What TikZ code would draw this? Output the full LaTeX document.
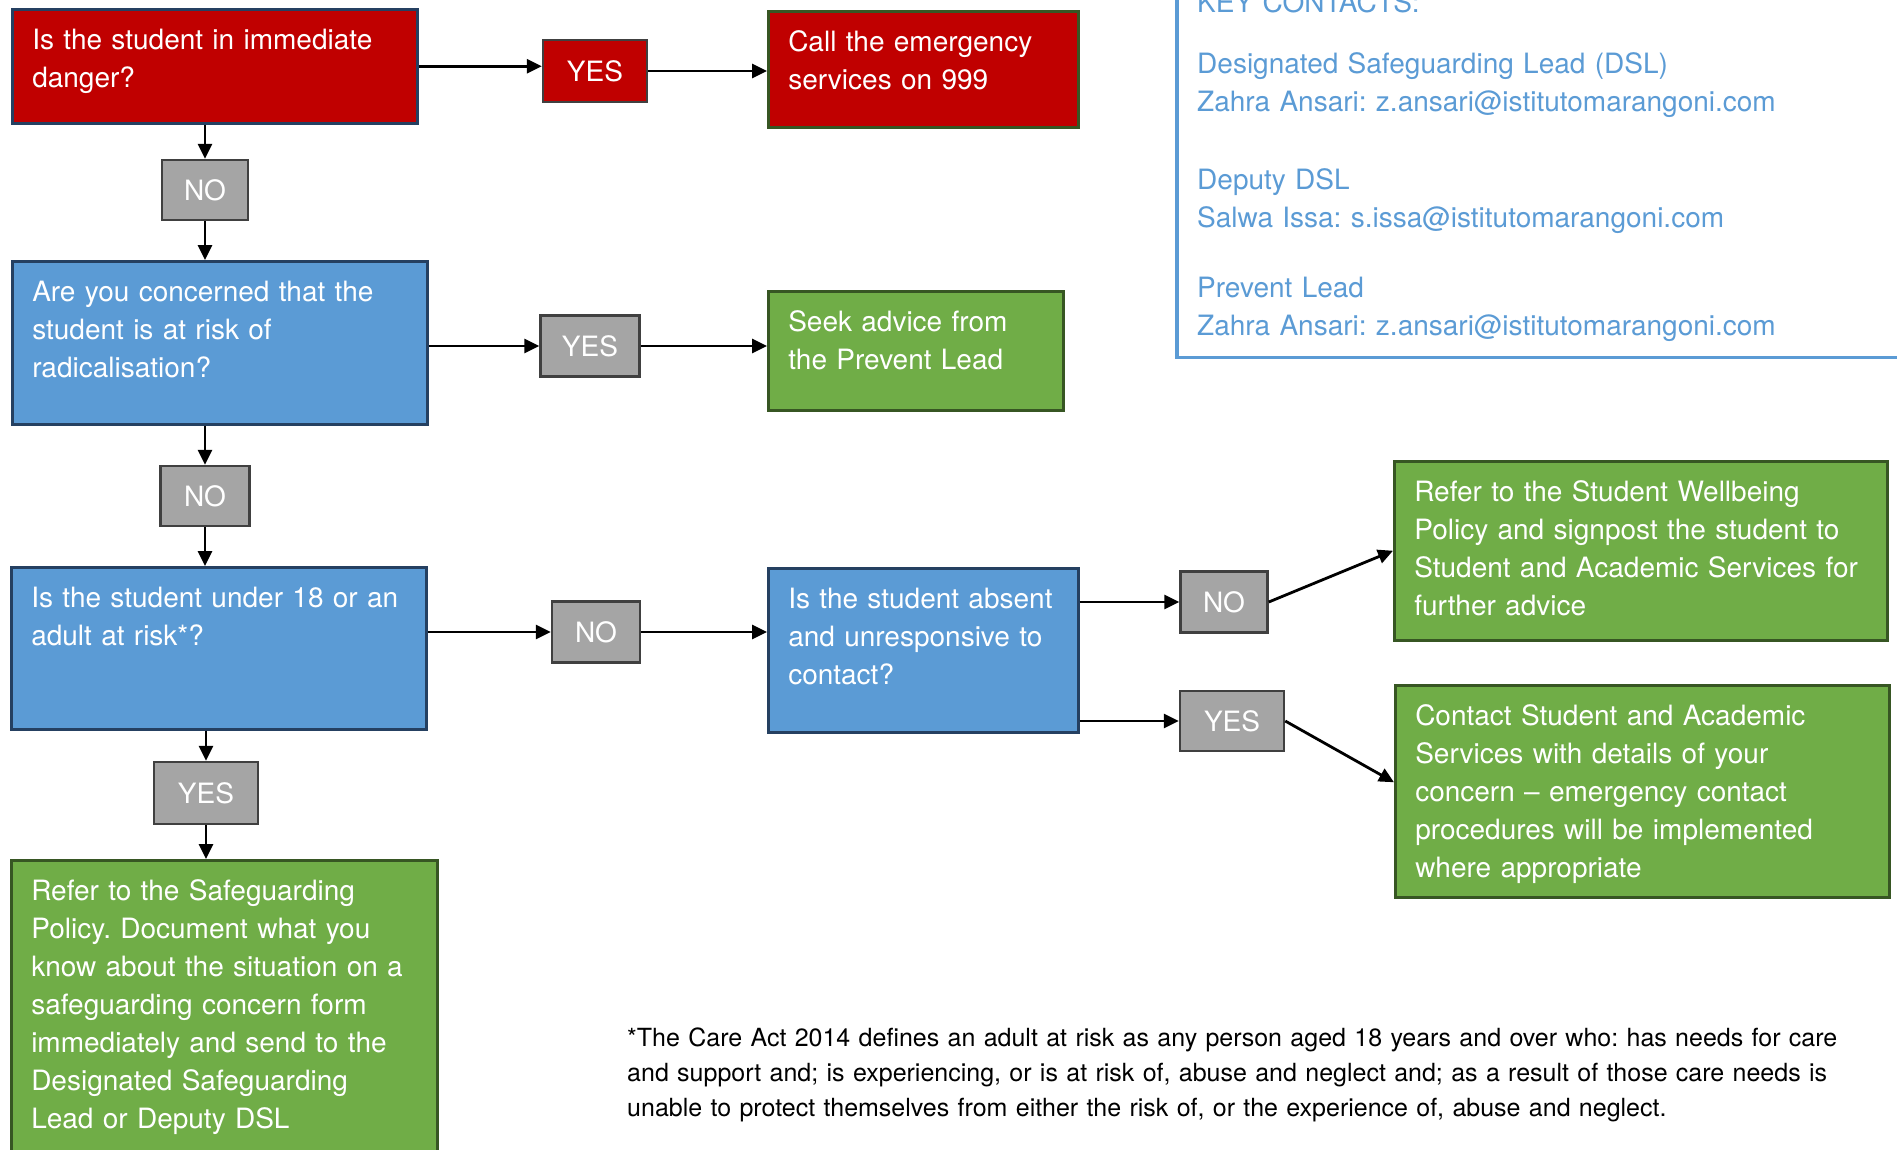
\documentclass[tikz,border=0pt]{standalone}
\usepackage{fontspec}
\setmainfont{TeX Gyre Heros}
\usepackage{tikz}
\usetikzlibrary{arrows.meta}
\frenchspacing

\definecolor{boxred}{HTML}{C00000}
\definecolor{boxblue}{HTML}{5B9BD5}
\definecolor{boxgreen}{HTML}{70AD47}
\definecolor{boxgray}{HTML}{A5A5A5}
\definecolor{navyline}{HTML}{254061}
\definecolor{greenline}{HTML}{375623}
\definecolor{grayline}{HTML}{404040}
\definecolor{keyblue}{HTML}{5B9BD5}

\begin{document}
\begin{tikzpicture}[x=1pt,y=-1pt]
\tikzset{box/.style={rectangle, line width=2.5pt, text=white, anchor=north west, align=left, inner sep=20pt, text height=20pt, font=\fontsize{28}{38}\selectfont}}
\tikzset{redbox/.style={box, fill=boxred, draw=navyline}}
\tikzset{bluebox/.style={box, fill=boxblue, draw=navyline}}
\tikzset{greenbox/.style={box, fill=boxgreen, draw=greenline}}
\tikzset{answer/.style={rectangle, line width=2.5pt, fill=boxgray, draw=grayline, text=white, inner sep=0pt, font=\fontsize{28}{34}\selectfont}}

\useasboundingbox (0,0) rectangle (1897,1149);
\clip (0,0) rectangle (1897,1149);

\begin{scope}
\node [redbox, text width=365pt, text depth=54pt] (danger) at (11,8) {Is the student in immediate\\danger?};
\node [redbox, draw=greenline, text width=270pt, text depth=56pt] (call) at (767,10) {Call the emergency\\services on 999};
\node [bluebox, text width=375pt, text depth=103pt] (radical) at (11,260) {Are you concerned that the\\student is at risk of\\radicalisation?};
\node [greenbox, text width=255pt, text depth=59pt] (prevent) at (767,290) {Seek advice from\\the Prevent Lead};
\node [bluebox, text width=375pt, text depth=102pt] (atrisk) at (10,566) {Is the student under 18 or an\\adult at risk*?};
\node [bluebox, text width=270pt, text depth=104pt] (absent) at (767,567) {Is the student absent\\and unresponsive to\\contact?};
\node [greenbox, text width=453pt, text depth=119pt] (wellbeing) at (1393,460) {Refer to the Student Wellbeing\\Policy and signpost the student to\\Student and Academic Services for\\further advice};
\node [greenbox, text width=454pt, text depth=152pt] (contact) at (1394,684) {Contact Student and Academic\\Services with details of your\\concern -- emergency contact\\procedures will be implemented\\where appropriate};
\node [greenbox, text width=386pt, text depth=240pt] (refer) at (10,859) {Refer to the Safeguarding\\Policy. Document what you\\know about the situation on a\\safeguarding concern form\\immediately and send to the\\Designated Safeguarding\\Lead or Deputy DSL};

\node [answer, fill=boxred, minimum width=104pt, minimum height=62pt] (yes1) at (595,71) {YES};
\node [answer, minimum width=86pt, minimum height=60pt] (no1) at (205,190) {NO};
\node [answer, minimum width=99pt, minimum height=61pt] (yes2) at (590,346) {YES};
\node [answer, minimum width=89pt, minimum height=60pt] (no2) at (205,496) {NO};
\node [answer, minimum width=88pt, minimum height=61pt] (no3) at (596,632) {NO};
\node [answer, minimum width=104pt, minimum height=62pt] (yes3) at (206,793) {YES};
\node [answer, minimum width=87pt, minimum height=61pt] (no4) at (1224,602) {NO};
\node [answer, minimum width=104pt, minimum height=60pt] (yes4) at (1232,721) {YES};

% key contacts panel, cut off at the top and right
\node [draw=keyblue, line width=3.5pt, anchor=south west, minimum width=760pt, minimum height=420pt] (keyframe) at (1175,359) {};
\node [text=keyblue, anchor=base west, align=left, inner sep=0pt, text width=700pt, font=\fontsize{28}{38}\selectfont] (contacts) at (1197,12) {KEY CONTACTS:\\[23pt]
Designated Safeguarding Lead (DSL)\\
Zahra Ansari: z.ansari@istitutomarangoni.com\\[40pt]
Deputy DSL\\
Salwa Issa: s.issa@istitutomarangoni.com\\[32pt]
Prevent Lead\\
Zahra Ansari: z.ansari@istitutomarangoni.com};

\node [anchor=base west, align=left, inner sep=0pt, text width=1280pt, font=\fontsize{25}{35}\selectfont] (note) at (627,1046) {*The Care Act 2014 defines an adult at risk as any person aged 18 years and over who: has needs for care\\
and support and; is experiencing, or is at risk of, abuse and neglect and; as a result of those care needs is\\
unable to protect themselves from either the risk of, or the experience of, abuse and neglect.};
\end{scope}

\begin{scope}[>={Triangle[length=15pt,width=14pt]},every edge/.style={draw=black,line width=2.8pt,->}]
\path (danger.east) edge (danger.east -| yes1.west);
\path (yes1.east) edge (yes1.east -| call.west);
\path (no1.north |- danger.south) edge (no1.north);
\path (no1.south) edge (no1.south |- radical.north);
\path (yes2.west -| radical.east) edge (yes2.west);
\path (yes2.east) edge (yes2.east -| prevent.west);
\path (no2.north |- radical.south) edge (no2.north);
\path (no2.south) edge (no2.south |- atrisk.north);
\path (no3.west -| atrisk.east) edge (no3.west);
\path (no3.east) edge (no3.east -| absent.west);
\path (yes3.north |- atrisk.south) edge (yes3.north);
\path (yes3.south) edge (yes3.south |- refer.north);
\path (absent.east |- no4.west) edge (no4.west);
\path (absent.east |- yes4.west) edge (yes4.west);
\path (no4.east) edge (wellbeing.west);
\path (yes4.east) edge ([yshift=9pt]contact.west);
\end{scope}

\end{tikzpicture}
\end{document}
